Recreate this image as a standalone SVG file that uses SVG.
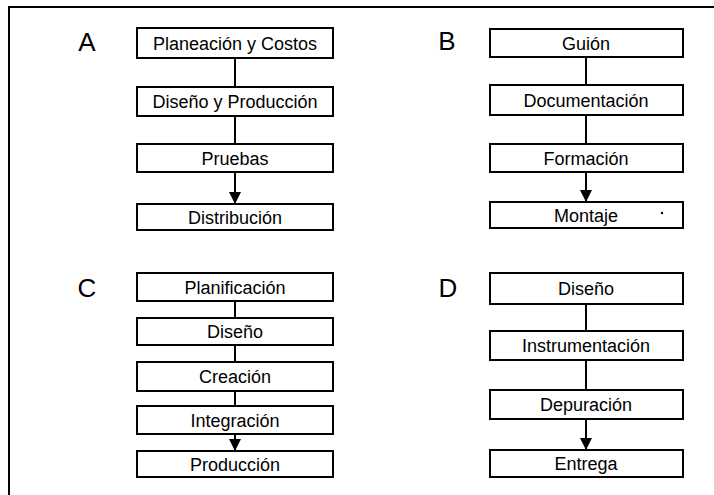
<svg xmlns="http://www.w3.org/2000/svg" width="714" height="495" viewBox="0 0 714 495">
  <defs>
    <marker id="arrow" viewBox="0 0 12 16" refX="12" refY="6" markerWidth="12" markerHeight="16" markerUnits="userSpaceOnUse" orient="auto">
      <path d="M0,0 L12,6 L0,12 Z" fill="#000"/>
    </marker>
    <style>
      .box { fill: #fff; stroke: #000; stroke-width: 2; }
      .lbl { font-family: "Liberation Sans", Arial, sans-serif; font-size: 18px; fill: #000; text-anchor: middle; }
      .tag { font-family: "Liberation Sans", Arial, sans-serif; font-size: 26px; fill: #000; text-anchor: middle; }
      .link { stroke: #000; stroke-width: 2; fill: none; }
    </style>
  </defs>
  <rect width="714" height="495" fill="#fff"/>

  <!-- frame -->
  <path d="M9,495 L9,7 L714,7" stroke="#000" stroke-width="2" fill="none"/>

  <!-- panel tags -->
  <text class="tag" x="87" y="51">A</text>
  <text class="tag" x="447" y="50">B</text>
  <text class="tag" x="87" y="297">C</text>
  <text class="tag" x="448" y="297">D</text>

  <!-- connectors -->
  <g id="connectors">
    <line class="link" x1="235" y1="58" x2="235" y2="87"/>
    <line class="link" x1="235" y1="116" x2="235" y2="144"/>
    <line class="link" x1="235" y1="172" x2="235" y2="204" marker-end="url(#arrow)"/>

    <line class="link" x1="586" y1="57" x2="586" y2="85"/>
    <line class="link" x1="586" y1="115" x2="586" y2="144"/>
    <line class="link" x1="586" y1="172" x2="586" y2="202" marker-end="url(#arrow)"/>

    <line class="link" x1="235" y1="301" x2="235" y2="318"/>
    <line class="link" x1="235" y1="345" x2="235" y2="362"/>
    <line class="link" x1="235" y1="391" x2="235" y2="406"/>
    <line class="link" x1="235" y1="434" x2="235" y2="451" marker-end="url(#arrow)"/>

    <line class="link" x1="586" y1="304" x2="586" y2="331"/>
    <line class="link" x1="586" y1="360" x2="586" y2="390"/>
    <line class="link" x1="586" y1="419" x2="586" y2="450" marker-end="url(#arrow)"/>
  </g>

  <!-- A -->
  <g id="a1"><rect class="box" x="137" y="28" width="196" height="30"/><text class="lbl" x="235" y="50">Planeación y Costos</text></g>
  <g id="a2"><rect class="box" x="137" y="87" width="196" height="29"/><text class="lbl" x="235" y="108">Diseño y Producción</text></g>
  <g id="a3"><rect class="box" x="137" y="144" width="196" height="28"/><text class="lbl" x="235" y="165">Pruebas</text></g>
  <g id="a4"><rect class="box" x="137" y="204" width="196" height="26"/><text class="lbl" x="235" y="224">Distribución</text></g>

  <!-- B -->
  <g id="b1"><rect class="box" x="490" y="29" width="193" height="28"/><text class="lbl" x="586" y="50">Guión</text></g>
  <g id="b2"><rect class="box" x="490" y="85" width="193" height="30"/><text class="lbl" x="586" y="107">Documentación</text></g>
  <g id="b3"><rect class="box" x="490" y="144" width="193" height="28"/><text class="lbl" x="586" y="165">Formación</text></g>
  <g id="b4"><rect class="box" x="490" y="202" width="193" height="26"/><text class="lbl" x="586" y="222">Montaje</text><circle cx="662" cy="213" r="1.2" fill="#000"/></g>

  <!-- C -->
  <g id="c1"><rect class="box" x="137" y="273" width="196" height="28"/><text class="lbl" x="235" y="294">Planificación</text></g>
  <g id="c2"><rect class="box" x="137" y="318" width="196" height="27"/><text class="lbl" x="235" y="338">Diseño</text></g>
  <g id="c3"><rect class="box" x="137" y="362" width="196" height="29"/><text class="lbl" x="235" y="383">Creación</text></g>
  <g id="c4"><rect class="box" x="137" y="406" width="196" height="28"/><text class="lbl" x="235" y="427">Integración</text></g>
  <g id="c5"><rect class="box" x="137" y="451" width="196" height="26"/><text class="lbl" x="235" y="471">Producción</text></g>

  <!-- D -->
  <g id="d1"><rect class="box" x="490" y="273" width="193" height="31"/><text class="lbl" x="586" y="295">Diseño</text></g>
  <g id="d2"><rect class="box" x="490" y="331" width="193" height="29"/><text class="lbl" x="586" y="352">Instrumentación</text></g>
  <g id="d3"><rect class="box" x="490" y="390" width="193" height="29"/><text class="lbl" x="586" y="411">Depuración</text></g>
  <g id="d4"><rect class="box" x="490" y="450" width="193" height="27"/><text class="lbl" x="586" y="470">Entrega</text></g>
</svg>
